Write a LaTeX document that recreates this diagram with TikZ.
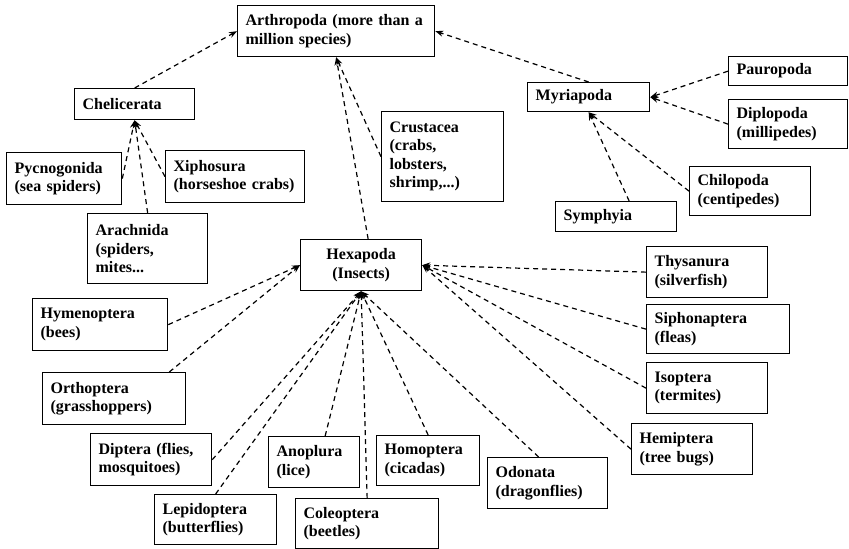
\documentclass[tikz,border=0pt]{standalone}
\usepackage{fontspec}
\setmainfont{Liberation Serif}
\usepackage{tikz}
\usetikzlibrary{arrows.meta}
\tikzset{
  taxon/.style={draw,line width=1.3pt,anchor=north west,align=left,inner xsep=8pt,inner ysep=2pt,font=\fontsize{16}{18.5}\selectfont\bfseries},
  dep/.style={-{Stealth[length=8pt,width=6pt]},line width=1.2pt,dash pattern=on 5pt off 4pt}
}
\begin{document}
\begin{tikzpicture}[x=1pt,y=-1pt]
  \useasboundingbox (0,0) rectangle (849,549);
  \node[taxon,text width=181,minimum height=51] (arth) at (237,5) {Arthropoda (more than a\\million species)};
  \node[taxon,text width=104,minimum height=31] (chel) at (74,88) {Chelicerata};
  \node[taxon,text width=99,minimum height=52] (pycno) at (6,152) {Pycnogonida\\(sea spiders)};
  \node[taxon,text width=123,minimum height=52] (xipho) at (165,150) {Xiphosura\\(horseshoe crabs)};
  \node[taxon,text width=104,minimum height=70] (arach) at (87,213) {Arachnida\\(spiders,\\mites...};
  \node[taxon,text width=106,minimum height=90] (crust) at (381,111) {Crustacea\\(crabs,\\lobsters,\\shrimp,...)};
  \node[taxon,align=center,text width=105,minimum height=51] (hexa) at (300,239) {Hexapoda\\(Insects)};
  \node[taxon,text width=106,minimum height=29] (myria) at (527,82) {Myriapoda};
  \node[taxon,text width=103,minimum height=29] (pauro) at (728,56) {Pauropoda};
  \node[taxon,text width=103,minimum height=49] (diplo) at (728,99) {Diplopoda\\(millipedes)};
  \node[taxon,text width=105,minimum height=49] (chilo) at (689,166) {Chilopoda\\(centipedes)};
  \node[taxon,text width=105,minimum height=30] (symph) at (555,201) {Symphyia};
  \node[taxon,text width=105,minimum height=51] (thysa) at (646,246) {Thysanura\\(silverfish)};
  \node[taxon,text width=127,minimum height=49] (sipho) at (646,304) {Siphonaptera\\(fleas)};
  \node[taxon,text width=105,minimum height=51] (isopt) at (646,362) {Isoptera\\(termites)};
  \node[taxon,text width=105,minimum height=51] (hemip) at (631,423) {Hemiptera\\(tree bugs)};
  \node[taxon,text width=104,minimum height=51] (odona) at (487,457) {Odonata\\(dragonflies)};
  \node[taxon,text width=87,minimum height=50] (homop) at (376,435) {Homoptera\\(cicadas)};
  \node[taxon,text width=119,minimum height=52] (hymen) at (32,298) {Hymenoptera\\(bees)};
  \node[taxon,text width=127,minimum height=52] (ortho) at (42,372) {Orthoptera\\(grasshoppers)};
  \node[taxon,text width=105,minimum height=52] (dipte) at (90,433) {Diptera (flies,\\mosquitoes)};
  \node[taxon,text width=75,minimum height=51] (anopl) at (268,436) {Anoplura\\(lice)};
  \node[taxon,text width=106,minimum height=50] (lepid) at (154,494) {Lepidoptera\\(butterflies)};
  \node[taxon,text width=127,minimum height=50] (coleo) at (295,498) {Coleoptera\\(beetles)};
  \draw[dep] (chel.north) -- (arth.west);
  \draw[dep] (myria.north) -- (arth.east);
  \draw[dep] ([xshift=7pt]hexa.north) -- (arth.south);
  \draw[dep] (crust.west) -- (arth.south);
  \draw[dep] (pycno.east) -- (chel.south);
  \draw[dep] (xipho.west) -- (chel.south);
  \draw[dep] (arach.north) -- (chel.south);
  \draw[dep] (pauro.west) -- (myria.east);
  \draw[dep] (diplo.west) -- (myria.east);
  \draw[dep] (chilo.west) -- (myria.south);
  \draw[dep] ([xshift=13pt]symph.north) -- (myria.south);
  \draw[dep] (thysa.west) -- (hexa.east);
  \draw[dep] (sipho.west) -- (hexa.east);
  \draw[dep] (isopt.west) -- (hexa.east);
  \draw[dep] (hemip.west) -- (hexa.east);
  \draw[dep] (hymen.east) -- (hexa.west);
  \draw[dep] ([xshift=-17pt]ortho.north east) -- (hexa.west);
  \draw[dep] (dipte.east) -- (hexa.south);
  \draw[dep] (lepid.north) -- (hexa.south);
  \draw[dep] ([xshift=11pt]anopl.north) -- (hexa.south);
  \draw[dep] (coleo.north) -- (hexa.south);
  \draw[dep] (homop.north) -- (hexa.south);
  \draw[dep] ([xshift=-9pt]odona.north) -- (hexa.south);
\end{tikzpicture}
\end{document}
